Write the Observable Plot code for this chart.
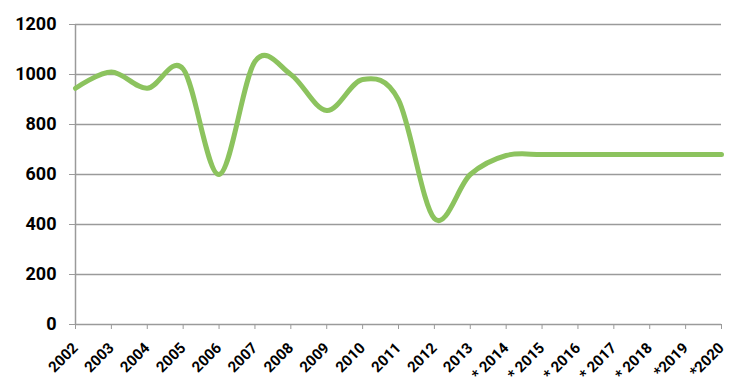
<!DOCTYPE html>
<html>
<head>
<meta charset="utf-8">
<script src="https://cdn.jsdelivr.net/npm/d3@7"></script>
<script src="https://cdn.jsdelivr.net/npm/@observablehq/plot@0.6"></script>
<style>
  html, body { margin: 0; padding: 0; background: #fff; }
  svg { display: block; }
</style>
</head>
<body>
<div id="chart"></div>
<script>
const years = ["2002","2003","2004","2005","2006","2007","2008","2009","2010","2011","2012","2013","* 2014","* 2015","* 2016","* 2017","* 2018","*2019","*2020"];
const values = [945, 1010, 945, 1022, 600, 1052, 1000, 856, 980, 898, 424, 600, 676, 680, 680, 680, 680, 680, 680];
const yTicks = [0, 200, 400, 600, 800, 1000, 1200];

const data = years.map((y, i) => ({year: y, value: values[i]}));
const grid = "#9a9a9a";

const chart = Plot.plot({
  width: 752,
  height: 392,
  marginLeft: 75,
  marginRight: 31,
  marginTop: 24,
  marginBottom: 68,
  style: {fontFamily: "Roboto, 'Liberation Sans', Arial, sans-serif", fontWeight: "bold", color: "#000", background: "#fff"},
  x: {type: "point", domain: years, padding: 0, round: false},
  y: {domain: [0, 1200]},
  marks: [
    Plot.ruleY(yTicks, {stroke: grid, strokeWidth: 1.5, strokeOpacity: 1}),
    Plot.ruleX([years[0]], {y1: 0, y2: 1200, stroke: grid, strokeWidth: 1.5}),
    Plot.axisY({ticks: yTicks, tickSize: 6, tickPadding: 13, stroke: grid, strokeOpacity: 1, fontSize: 18, fontWeight: "bold", label: null, tickFormat: d => String(d)}),
    Plot.axisX({tickSize: 5, tickPadding: 16, tickRotate: -45, stroke: grid, strokeOpacity: 1, fontSize: 15, fontWeight: "bold", label: null}),
    Plot.line(data, {x: "year", y: "value", stroke: "#8cc35e", strokeWidth: 5, curve: d3.curveCardinal.tension(0)})
  ]
});
d3.select(chart).selectAll("text").filter(function() {
  const g = this.closest("g[aria-label]");
  return g && /x-axis/.test(g.getAttribute("aria-label"));
}).attr("font-size", 15).style("font-size", "15px");
d3.select(chart).selectAll("text").filter(function() {
  const g = this.closest("g[aria-label]");
  return g && /y-axis/.test(g.getAttribute("aria-label"));
}).attr("font-size", 18).style("font-size", "18px");
document.getElementById("chart").appendChild(chart);
</script>
</body>
</html>
